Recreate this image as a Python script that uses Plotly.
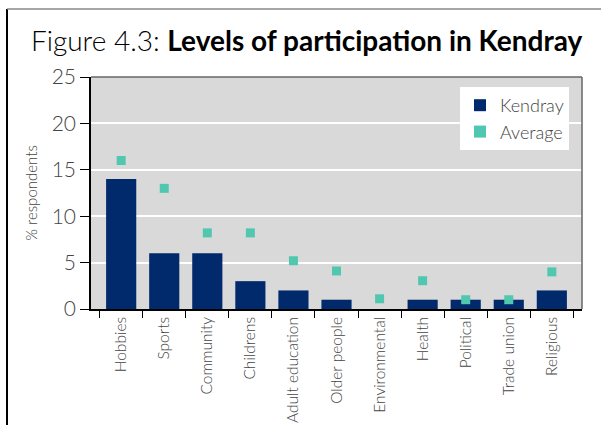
import plotly.graph_objects as go

categories = ["Hobbies", "Sports", "Community", "Childrens", "Adult education",
              "Older people", "Environmental", "Health", "Political", "Trade union", "Religious"]
kendray = [14, 6, 6, 3, 2, 1, 0, 1, 1, 1, 2]
average = [16, 13, 8.2, 8.2, 5.2, 4.1, 1.1, 3.05, 1.0, 1.0, 4.0]
y_ticks = [0, 5, 10, 15, 20, 25]

W, H = 601, 425
L, R, T, B = 91, 19, 77, 116
pw, ph = W - L - R, H - T - B

def px(x):
    return (x - L) / pw

def py(y):
    return 1 - (y - T) / ph

FONT = "Lato"

fig = go.Figure()
fig.add_trace(go.Bar(x=categories, y=kendray, name="Kendray",
                     marker=dict(color="#002a6b", line=dict(width=0))))
fig.add_trace(go.Scatter(x=categories, y=average, name="Average", mode="markers",
                         marker=dict(symbol="square", size=9, color="#52c7b0")))

fig.update_layout(
    width=W, height=H,
    margin=dict(l=L, r=R, t=T, b=B, autoexpand=False),
    paper_bgcolor="white", plot_bgcolor="#d9d9d9",
    bargap=0.3,
    font=dict(family=FONT, color="#333333"),
    showlegend=True,
    legend=dict(x=px(460), y=py(87), xanchor="left", yanchor="top",
                bgcolor="white", font=dict(size=18, color="#444444", weight=300),
                itemsizing="constant", tracegroupgap=0,
                borderwidth=0),
    title=dict(text="<span style='font-weight:300'>Figure 4.3: </span><b>Levels of participation in Kendray</b>",
               xref="container", x=31 / W, xanchor="left",
               yref="container", y=1 - 41 / H, yanchor="middle",
               font=dict(family=FONT, size=28, color="black")),
)
fig.update_xaxes(showline=True, linecolor="black", linewidth=1.5, automargin=False,
                 ticks="outside", tickson="boundaries", ticklen=7, tickcolor="black",
                 tickangle=-90, tickfont=dict(size=15.5, color="#444444", weight=300),
                 showgrid=False, mirror=False)
fig.update_yaxes(range=[0, 25], tickvals=y_ticks, showline=True, linecolor="black", linewidth=1.5,
                 automargin=False,
                 ticks="outside", ticklen=9, tickcolor="black",
                 tickfont=dict(size=21, color="#444444", weight=300),
                 showgrid=True, gridcolor="white", gridwidth=1.5, zeroline=False,
                 title=dict(text="% respondents", font=dict(size=15, color="#444444", weight=300), standoff=10))

# plot area frame (top and right) in gray
fig.add_shape(type="line", xref="paper", yref="paper", x0=0, x1=1, y0=1, y1=1,
              line=dict(color="#666666", width=1.5))
fig.add_shape(type="line", xref="paper", yref="paper", x0=1, x1=1, y0=0, y1=1,
              line=dict(color="#666666", width=1.5))
# outer figure frame
fig.add_shape(type="line", xref="paper", yref="paper", x0=px(7), x1=px(7), y0=py(9), y1=py(430),
              line=dict(color="black", width=2))
fig.add_shape(type="line", xref="paper", yref="paper", x0=px(7), x1=px(605), y0=py(9), y1=py(9),
              line=dict(color="#888888", width=1.5))

fig.write_html("out.html", config={"displayModeBar": False},
               post_script="document.body.style.margin='0';document.body.style.overflow='hidden';")
